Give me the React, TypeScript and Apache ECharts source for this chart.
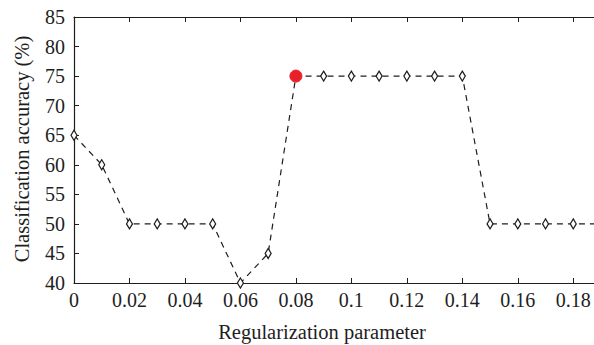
import React, { useEffect, useRef } from "react";
import * as echarts from "echarts";

const xValues = [0, 0.01, 0.02, 0.03, 0.04, 0.05, 0.06, 0.07, 0.08, 0.09, 0.1, 0.11, 0.12, 0.13, 0.14, 0.15, 0.16, 0.17, 0.18, 0.19];
const accuracy = [65, 60, 50, 50, 50, 50, 40, 45, 75, 75, 75, 75, 75, 75, 75, 50, 50, 50, 50, 50];
const highlightIndex = 8;
const xTitle = "Regularization parameter";
const yTitle = "Classification accuracy (%)";

const FONT = "Liberation Serif";
const INK = "#1e1e1e";

export default function App() {
  const ref = useRef<HTMLDivElement>(null);
  useEffect(() => {
    const chart = echarts.init(ref.current!, null, { renderer: "svg" });
    const data = xValues.map((x, i) => [x, accuracy[i]]);
    chart.setOption({
      animation: false,
      grid: { left: 74, right: 0, top: 17, bottom: 62 },
      graphic: [
        {
          type: "text",
          x: 322,
          y: 332,
          style: {
            text: xTitle,
            font: `20.5px "${FONT}"`,
            fill: INK,
            align: "center",
            verticalAlign: "middle",
          },
        },
        {
          type: "text",
          x: 22,
          y: 149,
          rotation: Math.PI / 2,
          style: {
            text: yTitle,
            font: `20.5px "${FONT}"`,
            fill: INK,
            align: "center",
            verticalAlign: "middle",
          },
        },
      ],
      xAxis: [
        {
          type: "value",
          min: 0,
          max: 0.19,
          interval: 0.02,
          axisLine: { lineStyle: { color: INK, width: 1.2 } },
          axisTick: { inside: true, length: 5, lineStyle: { color: INK } },
          axisLabel: {
            fontFamily: FONT,
            fontSize: 20,
            color: INK,
            margin: 7,
            showMaxLabel: false,
            formatter: (v: number) => String(parseFloat(v.toFixed(2))),
          },
          splitLine: { show: false },
        },
        {
          type: "value",
          position: "top",
          min: 0,
          max: 0.19,
          interval: 0.02,
          axisLine: { show: true, lineStyle: { color: INK, width: 1.2 } },
          axisTick: { show: true, inside: true, length: 5, lineStyle: { color: INK } },
          axisLabel: { show: false },
          splitLine: { show: false },
        },
      ],
      yAxis: {
        type: "value",
        min: 40,
        max: 85,
        interval: 5,
        axisLine: { show: true, lineStyle: { color: INK, width: 1.2 } },
        axisTick: { show: true, inside: true, length: 5, lineStyle: { color: INK } },
        axisLabel: { fontFamily: FONT, fontSize: 20, color: INK, margin: 9 },
        splitLine: { show: false },
      },
      series: [
        {
          type: "line",
          data: data.map((d, i) =>
            i === highlightIndex
              ? {
                  value: d,
                  symbol: "circle",
                  symbolSize: 12,
                  itemStyle: { color: "#e8202a", borderColor: "#e8202a", borderWidth: 1 },
                }
              : { value: d }
          ),
          symbol: "diamond",
          symbolSize: [6, 10],
          showAllSymbol: true,
          itemStyle: { color: "#fff", borderColor: INK, borderWidth: 1.3 },
          lineStyle: { color: INK, width: 1.2, type: [6, 5] },
          z: 3,
        },
      ],
    });
    return () => chart.dispose();
  }, []);
  return (
    <div style={{ position: "absolute", left: 0, top: 0, width: 594, height: 345, overflow: "hidden" }}>
      <div ref={ref} style={{ width: 601, height: 345 }} />
    </div>
  );
}
